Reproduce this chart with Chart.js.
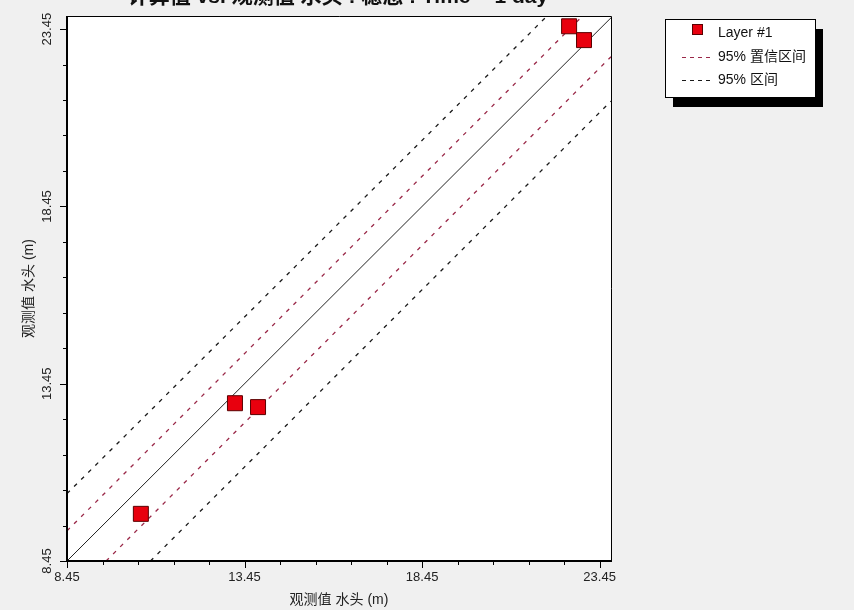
<!DOCTYPE html>
<html>
<head>
<meta charset="utf-8">
<script src="https://cdn.jsdelivr.net/npm/chart.js@4.4.0/dist/chart.umd.min.js"></script>
<style>
html, body { margin: 0; padding: 0; background: #f0f0f0; }
#wrap { width: 854px; height: 610px; position: relative; }
</style>
</head>
<body>
<div id="wrap"><canvas id="calibChart"></canvas></div>
<script>
// measured points (Layer #1)
var observedHead = [10.53, 13.18, 13.83, 22.59, 23.01];
var calculatedHead = [9.78, 12.90, 12.79, 23.53, 23.14];

// 1:1 line and the two interval bands (end points, in metres)
var lineX = [8.45, 23.77];
var lineY = [8.45, 23.77];
var confUpperX = [8.45, 22.97];
var confUpperY = [9.30, 23.82];
var confLowerX = [9.55, 23.77];
var confLowerY = [8.45, 22.67];
var predUpperX = [8.45, 21.97];
var predUpperY = [10.35, 23.82];
var predLowerX = [10.80, 23.77];
var predLowerY = [8.45, 21.42];

// axis ticks
var majorTicks = [8.45, 13.45, 18.45, 23.45];
var minorTicks = [9.45, 10.45, 11.45, 12.45, 14.45, 15.45, 16.45, 17.45, 19.45, 20.45, 21.45, 22.45];

var titleText = '计算值 vs. 观测值 水头 : 稳态 : Time = 1 day';
var xTitle = '观测值 水头 (m)';
var yTitle = '观测值 水头 (m)';
var legendLabels = ['Layer #1', '95% 置信区间', '95% 区间'];

var FONT = '"Liberation Sans", "Noto Sans CJK SC", sans-serif';
var confColor = '#9a2848';
var predColor = '#1a1a1a';

function pairs(xs, ys) {
    var out = [];
    for (var i = 0; i < xs.length; i++) {
        out.push({x: xs[i], y: ys[i]});
    }
    return out;
}

function dashedSet(xs, ys, color) {
    return {
        type: 'line',
        data: pairs(xs, ys),
        borderColor: color,
        borderWidth: 1.3,
        borderDash: [4, 6],
        pointRadius: 0,
        fill: false,
        clip: 0
    };
}

var framePlugin = {
    id: 'framePlugin',
    beforeDraw: function (chart) {
        var ctx = chart.ctx, a = chart.chartArea;
        ctx.save();
        ctx.fillStyle = '#f0f0f0';
        ctx.fillRect(0, 0, chart.width, chart.height);
        ctx.fillStyle = '#ffffff';
        ctx.fillRect(a.left, a.top, a.right - a.left, a.bottom - a.top);
        ctx.restore();
    },
    afterDraw: function (chart) {
        var ctx = chart.ctx, a = chart.chartArea;
        var xs = chart.scales.x, ys = chart.scales.y;
        ctx.save();
        // thin top/right border
        ctx.strokeStyle = '#000';
        ctx.lineWidth = 1;
        ctx.beginPath();
        ctx.moveTo(a.left, a.top + 0.5);
        ctx.lineTo(a.right + 0.5, a.top + 0.5);
        ctx.lineTo(a.right + 0.5, a.bottom);
        ctx.stroke();
        // heavy left/bottom axes
        ctx.lineWidth = 2;
        ctx.beginPath();
        ctx.moveTo(a.left, a.top);
        ctx.lineTo(a.left, a.bottom);
        ctx.lineTo(a.right + 1, a.bottom);
        ctx.stroke();

        ctx.lineWidth = 1;
        ctx.beginPath();
        majorTicks.forEach(function (v) {
            var px = Math.round(xs.getPixelForValue(v)) + 0.5;
            ctx.moveTo(px, a.bottom);
            ctx.lineTo(px, a.bottom + 7);
            var py = Math.round(ys.getPixelForValue(v)) + 0.5;
            ctx.moveTo(a.left, py);
            ctx.lineTo(a.left - 7, py);
        });
        minorTicks.forEach(function (v) {
            var px = Math.round(xs.getPixelForValue(v)) + 0.5;
            ctx.moveTo(px, a.bottom);
            ctx.lineTo(px, a.bottom + 4);
            var py = Math.round(ys.getPixelForValue(v)) + 0.5;
            ctx.moveTo(a.left, py);
            ctx.lineTo(a.left - 4, py);
        });
        ctx.stroke();

        // tick labels
        ctx.fillStyle = '#222';
        ctx.font = '13px ' + FONT;
        ctx.textAlign = 'center';
        ctx.textBaseline = 'top';
        majorTicks.forEach(function (v) {
            ctx.fillText(v.toFixed(2), xs.getPixelForValue(v), a.bottom + 10);
        });
        majorTicks.forEach(function (v) {
            ctx.save();
            ctx.translate(a.left - 20, ys.getPixelForValue(v));
            ctx.rotate(-Math.PI / 2);
            ctx.textBaseline = 'middle';
            ctx.fillText(v.toFixed(2), 0, 0);
            ctx.restore();
        });

        // axis titles
        ctx.font = '14px ' + FONT;
        ctx.textBaseline = 'middle';
        ctx.fillText(xTitle, (a.left + a.right) / 2, a.bottom + 39);
        ctx.save();
        ctx.translate(a.left - 38, (a.top + a.bottom) / 2);
        ctx.rotate(-Math.PI / 2);
        ctx.fillText(yTitle, 0, 0);
        ctx.restore();

        // title, mostly cut off at the top edge
        ctx.font = 'bold 21px ' + FONT;
        ctx.textBaseline = 'alphabetic';
        ctx.fillStyle = '#111';
        ctx.fillText(titleText, 338, 3);

        // legend with drop shadow
        var lx = 665, ly = 19, lw = 150, lh = 78;
        ctx.fillStyle = '#000';
        ctx.fillRect(lx + 8, ly + 10, lw, lh);
        ctx.fillStyle = '#fff';
        ctx.fillRect(lx, ly, lw, lh);
        ctx.strokeStyle = '#000';
        ctx.lineWidth = 1;
        ctx.strokeRect(lx + 0.5, ly + 0.5, lw, lh);

        ctx.fillStyle = '#e8000e';
        ctx.fillRect(692, 24, 11, 11);
        ctx.strokeStyle = '#5a0000';
        ctx.strokeRect(692.5, 24.5, 10, 10);

        ctx.setLineDash([4, 4]);
        ctx.strokeStyle = confColor;
        ctx.beginPath();
        ctx.moveTo(682, 57.5);
        ctx.lineTo(710, 57.5);
        ctx.stroke();
        ctx.strokeStyle = predColor;
        ctx.beginPath();
        ctx.moveTo(682, 80.5);
        ctx.lineTo(710, 80.5);
        ctx.stroke();
        ctx.setLineDash([]);

        ctx.fillStyle = '#111';
        ctx.font = '14px ' + FONT;
        ctx.textAlign = 'left';
        ctx.textBaseline = 'middle';
        ctx.fillText(legendLabels[0], 718, 33);
        ctx.fillText(legendLabels[1], 718, 57);
        ctx.fillText(legendLabels[2], 718, 80);
        ctx.restore();
    }
};

var ctx = document.getElementById('calibChart').getContext('2d');
var myChart = new Chart(ctx, {
    type: 'scatter',
    data: {
        datasets: [
            {
                label: legendLabels[0],
                data: pairs(observedHead, calculatedHead),
                pointStyle: 'rect',
                pointRadius: 10.6,
                pointHoverRadius: 10.6,
                backgroundColor: '#e8000e',
                borderColor: '#5a0000',
                borderWidth: 1,
                clip: false
            },
            {
                type: 'line',
                data: pairs(lineX, lineY),
                borderColor: '#222',
                borderWidth: 1,
                pointRadius: 0,
                fill: false,
                clip: 0
            },
            dashedSet(confUpperX, confUpperY, confColor),
            dashedSet(confLowerX, confLowerY, confColor),
            dashedSet(predUpperX, predUpperY, predColor),
            dashedSet(predLowerX, predLowerY, predColor)
        ]
    },
    options: {
        responsive: true,
        maintainAspectRatio: false,
        animation: false,
        layout: {
            padding: {left: 67, right: 243, top: 16, bottom: 49}
        },
        scales: {
            x: {type: 'linear', min: 8.45, max: 23.77, display: false},
            y: {type: 'linear', min: 8.45, max: 23.82, display: false}
        },
        plugins: {
            legend: {display: false},
            tooltip: {enabled: false}
        }
    },
    plugins: [framePlugin]
});
</script>
</body>
</html>
